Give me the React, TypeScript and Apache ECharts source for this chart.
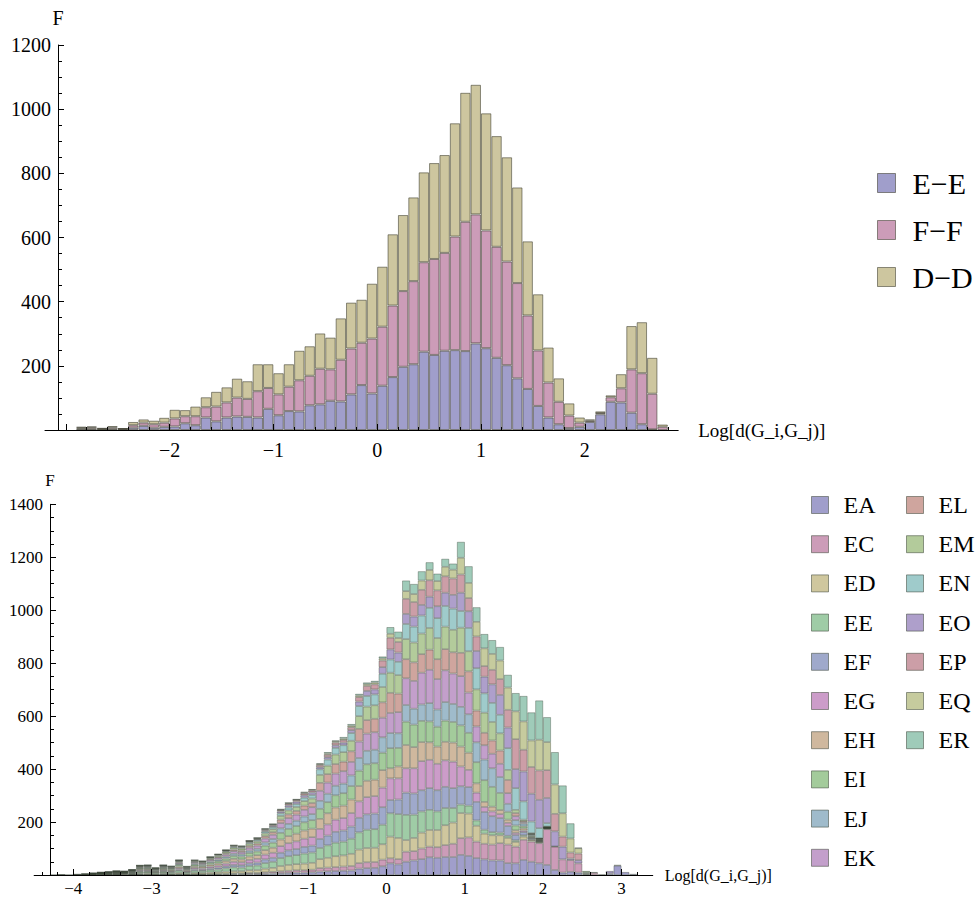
import React, { useEffect, useRef } from "react";
import * as echarts from "echarts";

const FONT = '"Liberation Serif", "Times New Roman", Times, serif';

// ---------- Top histogram (bin starts, width 0.1) ----------
const topBins = [
  -2.9, -2.8, -2.7, -2.6, -2.5, -2.4, -2.3, -2.2, -2.1, -2.0,
  -1.9, -1.8, -1.7, -1.6, -1.5, -1.4, -1.3, -1.2, -1.1, -1.0,
  -0.9, -0.8, -0.7, -0.6, -0.5, -0.4, -0.3, -0.2, -0.1, 0.0,
  0.1, 0.2, 0.3, 0.4, 0.5, 0.6, 0.7, 0.8, 0.9, 1.0,
  1.1, 1.2, 1.3, 1.4, 1.5, 1.6, 1.7, 1.8, 1.9, 2.0,
  2.1, 2.2, 2.3, 2.4, 2.5, 2.6, 2.7,
];
const topPadLeft = [-3.2, -3.1, -3.0];
const topPadRight = [2.8];

const topEE = [4, 4, 2, 4, 2, 7, 13, 7, 10, 11, 21, 15, 39, 27, 39, 42, 41, 39, 66, 46, 59, 58, 77, 80, 91, 89, 111, 140, 114, 138, 165, 197, 205, 244, 234, 247, 249, 246, 270, 255, 225, 202, 161, 128, 75, 39, 18, 6, 10, 25, 49, 88, 86, 54, 18, 2, 0];
const topFF = [3, 4, 2, 4, 2, 8, 10, 11, 13, 25, 22, 28, 32, 46, 47, 59, 56, 82, 65, 65, 76, 97, 92, 111, 98, 130, 143, 132, 171, 184, 223, 236, 259, 279, 299, 305, 354, 403, 402, 367, 346, 323, 297, 229, 173, 109, 70, 39, 13, 4, 4, 14, 44, 135, 159, 111, 10];
const topDD = [3, 3, 2, 4, 1, 10, 10, 11, 15, 27, 19, 30, 31, 46, 47, 59, 55, 84, 74, 66, 70, 92, 92, 110, 99, 129, 143, 134, 171, 187, 222, 237, 261, 280, 299, 305, 353, 402, 404, 365, 345, 325, 298, 231, 175, 109, 73, 38, 16, 4, 5, 6, 44, 135, 159, 112, 7];

const topNames = ["E\u2212E", "F\u2212F", "D\u2212D"];
const topColors = ["#A09ECB", "#CC9CB8", "#CDC69F"];
const topTicks = [-3, -2, -1, 0, 1, 2];
const topLabels = [-2, -1, 0, 1, 2];
const topYTicks = [0, 200, 400, 600, 800, 1000, 1200];

// ---------- Bottom histogram ----------
const botBins = [
  -4.3, -4.2, -4.1, -4.0, -3.9, -3.8, -3.7, -3.6, -3.5, -3.4,
  -3.3, -3.2, -3.1, -3.0, -2.9, -2.8, -2.7, -2.6, -2.5, -2.4,
  -2.3, -2.2, -2.1, -2.0, -1.9, -1.8, -1.7, -1.6, -1.5, -1.4,
  -1.3, -1.2, -1.1, -1.0, -0.9, -0.8, -0.7, -0.6, -0.5, -0.4,
  -0.3, -0.2, -0.1, 0.0, 0.1, 0.2, 0.3, 0.4, 0.5, 0.6,
  0.7, 0.8, 0.9, 1.0, 1.1, 1.2, 1.3, 1.4, 1.5, 1.6,
  1.7, 1.8, 1.9, 2.0, 2.1, 2.2, 2.3, 2.4, 2.5, 2.6,
  2.7, 2.8, 2.9, 3.0, 3.1,
];
const botPadLeft = [-4.5, -4.4];
const botPadRight = [3.2, 3.3];

const EA = [0,0,0,0,0,0,1,0,1,0, 1,1,1,1,1,1,1,1,1,1, 2,2,2,3,3,4,4,5,6,7, 8,9,9,10,13,14,15,16,17,24, 26,27,33,44,40,50,55,60,67,65, 68,68,76,72,64,59,55,55,45,44, 57,50,44,38,19,9,12,9,3,0, 0,6,35,11,4];
const EC = [0,0,0,0,0,1,0,0,1,0, 1,2,1,1,2,1,2,1,2,2, 2,2,3,3,3,4,4,5,6,7, 8,9,9,10,13,14,15,16,17,21, 22,22,25,19,20,38,35,40,40,40, 45,50,63,70,62,59,60,65,70,63, 76,76,76,135,88,50,44,35,3,8, 2,0,0,0,0];
const ED = [0,1,0,0,1,1,1,1,2,2, 2,3,4,3,3,3,5,3,5,5, 6,7,8,9,9,10,11,14,15,20, 22,23,25,26,34,37,41,42,46,51, 54,54,58,82,80,44,50,60,63,65, 75,80,95,90,60,38,35,30,25,18, 12,6,4,2,0,0,0,0,0,0, 0,0,0,0,0];
const EE = [1,0,0,1,1,1,2,2,2,2, 3,5,5,4,5,5,8,5,8,7, 9,10,12,14,13,16,17,21,23,30, 33,34,38,39,42,47,51,52,57,65, 69,70,74,88,90,95,88,80,76,70, 65,55,32,30,20,15,12,10,8,6, 5,2,1,1,0,0,0,0,4,0, 0,0,0,0,0];
const EF = [0,0,0,0,0,0,1,1,1,1, 2,3,3,2,3,3,4,2,5,4, 6,7,8,9,9,10,11,14,15,20, 22,23,25,26,34,37,41,42,46,55, 58,59,66,50,55,84,80,80,82,80, 80,75,69,70,70,67,60,55,37,20, 12,5,3,1,0,0,0,0,0,0, 0,0,0,0,0];
const EG = [0,1,0,0,0,1,1,1,2,2, 2,4,4,3,4,3,6,4,6,6, 7,8,10,12,11,13,14,18,19,25, 27,29,31,32,38,42,46,47,51,62, 65,66,74,82,80,92,95,110,107,100, 100,100,75,65,35,19,18,15,12,8, 6,2,1,1,0,0,0,0,0,0, 0,0,0,0,0];
const EH = [0,0,1,1,0,1,1,2,1,2, 2,4,4,3,4,4,6,4,6,6, 7,8,10,11,11,13,14,17,19,25, 27,29,31,32,38,42,46,47,51,58, 62,62,66,38,45,88,80,72,66,65, 70,72,75,65,35,19,18,15,12,10, 8,3,2,1,0,0,0,0,0,0, 0,0,0,0,0];
const EI = [0,0,0,0,1,1,1,2,2,1, 2,4,4,3,4,4,6,3,6,5, 7,8,9,11,11,13,14,17,19,25, 27,29,31,32,38,42,46,47,51,58, 62,62,66,76,70,88,85,80,79,75, 80,78,80,75,80,82,75,65,30,18, 8,4,2,1,0,0,0,0,0,0, 0,0,0,0,0];
const EJ = [0,0,0,0,0,0,0,1,1,1, 1,2,3,2,3,2,4,2,4,4, 5,6,7,8,8,9,10,12,14,17, 19,20,22,23,30,32,36,36,40,48, 51,51,58,57,55,63,60,62,69,65, 70,68,70,70,75,78,70,60,30,20, 10,4,2,1,0,0,0,0,0,0, 0,0,0,0,0];
const EK = [0,0,0,0,1,0,1,1,1,1, 2,3,3,2,3,3,5,3,5,5, 6,7,8,10,9,11,12,15,16,20, 22,23,25,26,38,42,46,47,51,62, 65,66,74,76,80,101,105,120,126,115, 120,115,116,82,60,54,55,50,40,15, 5,2,2,1,0,0,0,0,0,0, 0,0,0,0,0];
const EL = [0,0,0,0,0,1,0,1,1,1, 1,2,2,1,2,2,3,2,3,3, 4,4,5,6,6,7,8,9,10,13, 14,14,16,16,30,32,36,36,40,48, 51,51,58,76,70,72,70,70,76,75, 80,80,88,80,60,47,50,50,50,12, 5,2,1,1,0,0,0,0,0,0, 0,0,0,0,0];
const EM = [0,0,0,1,1,1,1,1,1,1, 1,2,2,2,2,2,3,2,3,3, 4,5,6,7,7,8,8,10,11,14, 15,15,17,17,30,32,36,36,40,48, 51,51,58,76,70,76,75,78,82,80, 85,85,95,76,80,76,70,65,38,12, 5,2,1,0,0,0,0,0,5,0, 0,0,0,0,0];
const EN = [0,0,0,0,0,0,0,0,0,1, 1,1,1,1,1,1,2,1,2,1, 2,3,3,4,4,5,6,7,8,10, 11,11,13,13,21,23,25,26,29,38, 40,41,50,50,50,57,60,68,76,75, 78,80,63,88,80,73,72,70,82,82, 69,44,38,13,1,0,0,0,0,0, 0,0,0,0,0];
const EO = [0,0,0,0,0,0,0,0,0,0, 0,1,1,0,1,0,1,0,1,1, 1,1,2,3,3,3,3,4,5,7, 8,9,9,10,8,9,10,10,11,17, 19,19,25,38,35,38,38,40,42,45, 50,52,69,63,65,63,70,75,78,72, 113,105,107,95,57,48,6,12,0,0, 0,9,3,0,0];
const EP = [0,0,0,0,0,0,1,0,0,0, 0,0,0,0,0,0,1,0,0,0, 1,1,1,2,2,2,2,4,4,5, 6,6,7,7,8,9,10,10,11,17, 19,19,25,44,40,57,55,57,62,60, 62,62,69,50,55,40,55,60,67,113, 82,101,111,105,66,38,23,25,0,3, 0,0,0,0,0];
const EQ = [0,0,0,0,0,0,0,0,0,0, 0,0,0,0,0,0,0,0,0,0, 0,0,1,1,1,1,2,2,2,2, 3,2,3,3,4,5,5,5,6,6, 7,7,8,15,15,29,30,35,39,35, 36,33,63,57,55,67,60,70,84,105, 107,100,116,106,111,88,53,20,0,0, 0,0,0,0,0];
const ER = [0,0,0,0,0,0,0,0,0,0, 0,0,0,0,0,0,0,0,0,0, 0,0,0,0,0,1,1,2,1,2, 1,1,3,2,3,5,3,6,6,6, 6,6,7,25,24,40,38,35,29,28, 30,23,60,63,55,54,52,51,48,69, 96,106,148,94,122,105,57,2,0,0, 0,0,0,0,0];

const botNames = ["EA", "EC", "ED", "EE", "EF", "EG", "EH", "EI", "EJ", "EK", "EL", "EM", "EN", "EO", "EP", "EQ", "ER"];
const botSeries = [EA, EC, ED, EE, EF, EG, EH, EI, EJ, EK, EL, EM, EN, EO, EP, EQ, ER];
const botColors = [
  "#A09ECB", "#CC9CB8", "#CFC79E", "#9FCCA6", "#9FA9CB", "#CC9CC9",
  "#CFB89E", "#A3CB9B", "#9FBBCB", "#C39FCB", "#CFA59E", "#B3CB9B",
  "#9FCBCB", "#AE9FCB", "#CC9EA7", "#C6CB9E", "#9FCBB9",
];
const botTicks = [-4, -3, -2, -1, 0, 1, 2, 3];
const botYTicks = [0, 200, 400, 600, 800, 1000, 1200, 1400];

// ---------- helpers ----------
const fmt = (v: number) => (v < 0 ? "\u2212" + Math.abs(v) : String(v));
const cats = (l: number[], b: number[], r: number[]) => [...l, ...b, ...r].map((v) => v.toFixed(1));
const pad = (l: number[], vals: number[], r: number[]) =>
  [...l.map(() => 0), ...vals, ...r.map(() => 0)].map((v) => (v === 0 ? null : v));
const minorTicks = (kFrom: number, kTo: number) => {
  const out: number[] = [];
  for (let k = kFrom; k <= kTo; k++) if (k % 5 !== 0) out.push(Math.round(k * 20) / 100);
  return out;
};
const borderTop = "rgba(55,55,40,0.55)";
const borderBot = "rgba(50,60,45,0.5)";

// geometry (pixels)
const TOP = { left: 45, top: 45, width: 633.2, height: 385 };
const BOT = { left: 34.15, top: 504.3, width: 618.6, height: 370.7 };

function buildOption() {
  const topCats = cats(topPadLeft, topBins, topPadRight);
  const botCats = cats(botPadLeft, botBins, botPadRight);
  const topMin = topPadLeft[0];
  const topMax = +(topPadRight[topPadRight.length - 1] + 0.1).toFixed(1);
  const botMin = botPadLeft[0];
  const botMax = +(botPadRight[botPadRight.length - 1] + 0.1).toFixed(1);
  const black = { color: "#000", width: 1 };

  const valueX = (grid: number, min: number, max: number, ticks: number[], labels: number[], fs: number, margin: number, nameGap: number, nameFs: number) => ({
    type: "value", gridIndex: grid, min, max, position: "bottom", z: 10,
    axisLine: { show: true, onZero: false, lineStyle: black },
    axisTick: { show: true, inside: true, length: 6, customValues: ticks, lineStyle: black },
    axisLabel: { show: true, customValues: labels, formatter: fmt, fontFamily: FONT, fontSize: fs, color: "#000", margin },
    splitLine: { show: false },
    name: "Log[d(G_i,G_j)]", nameLocation: "end", nameGap,
    nameTextStyle: { fontFamily: FONT, fontSize: nameFs, color: "#000", align: "left", verticalAlign: "middle" },
  });
  const minorX = (grid: number, min: number, max: number, ticks: number[]) => ({
    type: "value", gridIndex: grid, min, max, position: "bottom", z: 10,
    axisLine: { show: false, onZero: false },
    axisTick: { show: true, inside: true, length: 3, customValues: ticks, lineStyle: black },
    axisLabel: { show: false },
    splitLine: { show: false },
  });
  const yAx = (grid: number, max: number, offset: number, fs: number, nameGap: number) => ({
    type: "value", gridIndex: grid, min: 0, max, interval: 200, offset, z: 10,
    axisLine: { show: true, onZero: false, lineStyle: black },
    axisTick: { show: true, inside: true, length: 6, lineStyle: black },
    minorTick: { show: true, splitNumber: 4, length: 4, lineStyle: black },
    axisLabel: {
      fontFamily: FONT, fontSize: fs, color: "#000", margin: 7, showMinLabel: false,
      formatter: (v: number) => (v === 0 ? "" : String(v)),
    },
    splitLine: { show: false },
    name: "F", nameLocation: "end", nameGap,
    nameTextStyle: { fontFamily: FONT, fontSize: fs, color: "#000", align: "center" },
  });

  const topSeriesData = [topEE, topFF, topDD];
  const series: any[] = [];
  topSeriesData.forEach((vals, i) => {
    series.push({
      type: "bar", name: topNames[i], xAxisIndex: 0, yAxisIndex: 0, stack: "top",
      data: pad(topPadLeft, vals, topPadRight), barCategoryGap: "0%",
      itemStyle: { color: topColors[i], borderColor: borderTop, borderWidth: 1 },
      emphasis: { disabled: true },
    });
  });
  botSeries.forEach((vals, i) => {
    series.push({
      type: "bar", name: botNames[i], xAxisIndex: 3, yAxisIndex: 1, stack: "bot",
      data: pad(botPadLeft, vals, botPadRight), barCategoryGap: "0%",
      itemStyle: { color: botColors[i], borderColor: borderBot, borderWidth: 0.7 },
      emphasis: { disabled: true },
    });
  });

  const legendBase = {
    orient: "vertical", padding: 0, icon: "rect", selectedMode: false,
  };

  return {
    animation: false,
    backgroundColor: "#fff",
    grid: [
      { ...TOP, containLabel: false, outerBoundsMode: "none" },
      { ...BOT, containLabel: false, outerBoundsMode: "none" },
    ],
    xAxis: [
      { type: "category", gridIndex: 0, data: topCats, show: false, position: "bottom", boundaryGap: true },
      valueX(0, topMin, topMax, topTicks, topLabels, 20, 10, 20, 19),
      minorX(0, topMin, topMax, minorTicks(-14, 14)),
      { type: "category", gridIndex: 1, data: botCats, show: false, position: "bottom", boundaryGap: true },
      valueX(1, botMin, botMax, botTicks, botTicks, 17, 5, 12, 16),
      minorX(1, botMin, botMax, minorTicks(-22, 16)),
    ],
    yAxis: [
      { ...yAx(0, topYTicks[topYTicks.length - 1], -13, 20, 17) },
      { ...yAx(1, botYTicks[botYTicks.length - 1], -15.85, 17, 15) },
    ],
    legend: [
      {
        ...legendBase, data: topNames, left: 877, top: 168, itemWidth: 18, itemHeight: 19, itemGap: 17,
        itemStyle: { borderWidth: 1, borderColor: borderTop },
        textStyle: { fontFamily: FONT, fontSize: 30, lineHeight: 30, color: "#000", padding: [0, 0, 0, 12] },
      },
      {
        ...legendBase, data: botNames.slice(0, 10), left: 811, top: 493, itemWidth: 17, itemHeight: 17, itemGap: 15.2,
        itemStyle: { borderWidth: 1, borderColor: borderBot },
        textStyle: { fontFamily: FONT, fontSize: 24, lineHeight: 24, color: "#000", padding: [0, 0, 0, 10] },
      },
      {
        ...legendBase, data: botNames.slice(10), left: 906, top: 493, itemWidth: 17, itemHeight: 17, itemGap: 15.2,
        itemStyle: { borderWidth: 1, borderColor: borderBot },
        textStyle: { fontFamily: FONT, fontSize: 24, lineHeight: 24, color: "#000", padding: [0, 0, 0, 10] },
      },
    ],
    series,
  };
}

export default function App() {
  const ref = useRef<HTMLDivElement>(null);
  useEffect(() => {
    if (!ref.current) return;
    const chart = echarts.init(ref.current, null, { renderer: "svg" });
    chart.setOption(buildOption() as any);
    return () => chart.dispose();
  }, []);
  return (
    <div
      ref={ref}
      style={{ position: "fixed", left: 0, top: 0, width: 977, height: 899, background: "#fff" }}
    />
  );
}
